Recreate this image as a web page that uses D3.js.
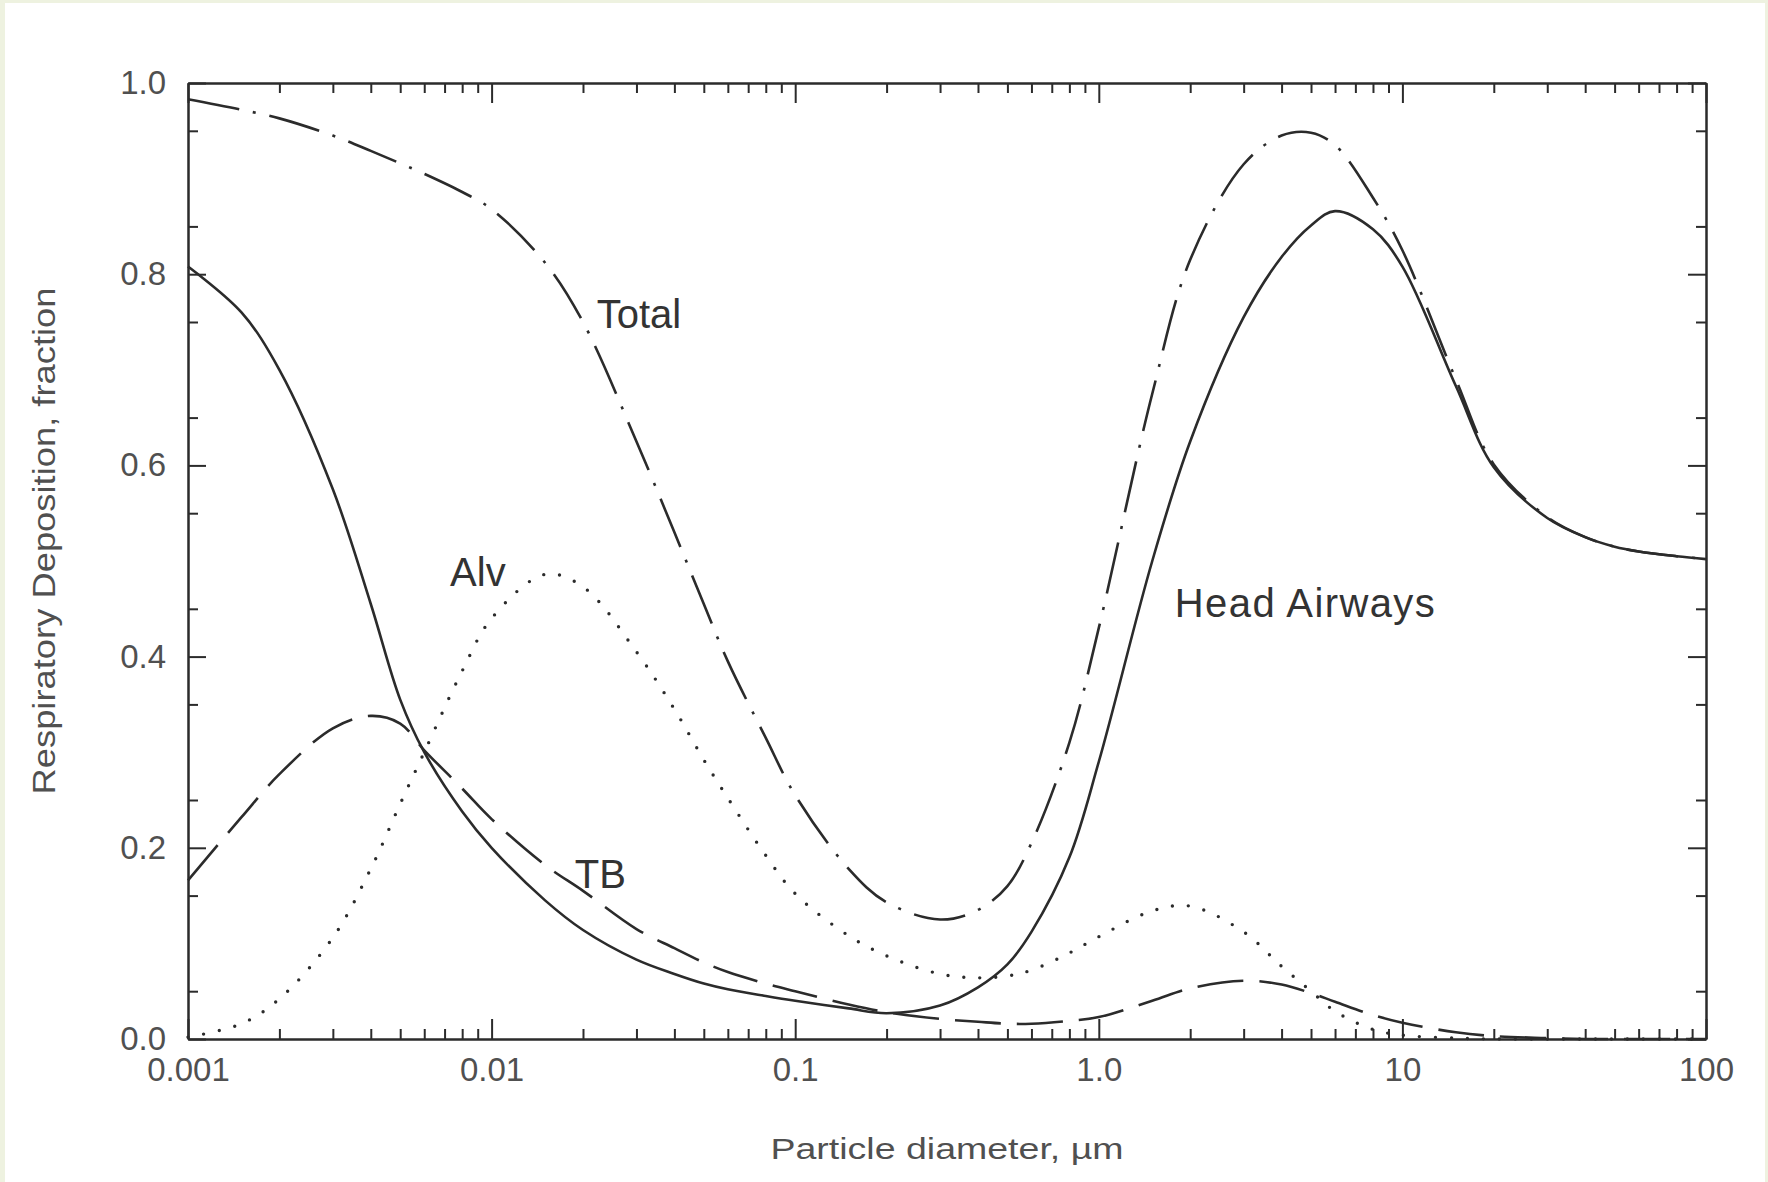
<!DOCTYPE html>
<html lang="en">
<head>
    <meta charset="UTF-8">
    <title>Respiratory Deposition</title>
    <script src="https://d3js.org/d3.v7.min.js"></script>
    <style>
        body { margin: 0; background: #eef2e0; }
        svg { display: block; }
        text { font-family: "Liberation Sans", Arial, sans-serif; }
    </style>
</head>
<body>
    <div id="my_dataviz"></div>

    <script>
        // particle diameters (um) the curves were read at
        var diameters = [0.001, 0.0015, 0.002, 0.003, 0.004, 0.005, 0.006, 0.008, 0.01, 0.015,
            0.02, 0.03, 0.04, 0.05, 0.06, 0.08, 0.1, 0.15, 0.2, 0.3,
            0.4, 0.5, 0.6, 0.8, 1, 1.5, 2, 3, 4, 5,
            6, 8, 10, 15, 20, 30, 40, 50, 60, 80, 100];

        // deposition fraction for each region
        var headAirways = [0.808, 0.76, 0.70, 0.575, 0.455, 0.355, 0.30, 0.238, 0.200, 0.145,
            0.114, 0.083, 0.068, 0.058, 0.052, 0.045, 0.040, 0.032, 0.027, 0.035,
            0.054, 0.078, 0.112, 0.19, 0.29, 0.50, 0.625, 0.755, 0.818, 0.851,
            0.866, 0.847, 0.808, 0.683, 0.598, 0.545, 0.525, 0.515, 0.51, 0.505, 0.502];
        var tb = [0.166, 0.232, 0.277, 0.325, 0.338, 0.33, 0.302, 0.262, 0.23, 0.182,
            0.155, 0.115, 0.095, 0.08, 0.07, 0.058, 0.05, 0.036, 0.028, 0.021,
            0.018, 0.016, 0.016, 0.019, 0.023, 0.04, 0.053, 0.061, 0.057, 0.048,
            0.039, 0.025, 0.017, 0.007, 0.003, 0.001, 0, 0, 0, 0, 0];
        var alv = [0.002, 0.016, 0.042, 0.106, 0.178, 0.246, 0.3, 0.385, 0.44, 0.486,
            0.473, 0.405, 0.345, 0.292, 0.252, 0.192, 0.152, 0.108, 0.087, 0.068,
            0.064, 0.066, 0.072, 0.09, 0.107, 0.134, 0.139, 0.112, 0.076, 0.05,
            0.029, 0.01, 0.004, 0.001, 0, 0, 0, 0, 0, 0, 0];
        var total = [0.983, 0.972, 0.963, 0.945, 0.929, 0.916, 0.905, 0.886, 0.868, 0.812,
            0.75, 0.625, 0.53, 0.455, 0.395, 0.315, 0.255, 0.178, 0.143, 0.125,
            0.135, 0.16, 0.205, 0.31, 0.43, 0.675, 0.815, 0.915, 0.945, 0.948,
            0.935, 0.88, 0.825, 0.69, 0.601, 0.546, 0.525, 0.515, 0.51, 0.505, 0.502];

        // axis ticks and labels
        var xMajor = [0.001, 0.01, 0.1, 1, 10, 100];
        var xTickLabels = ["0.001", "0.01", "0.1", "1.0", "10", "100"];
        var yMajor = [0, 0.2, 0.4, 0.6, 0.8, 1.0];
        var yTickLabels = ["0.0", "0.2", "0.4", "0.6", "0.8", "1.0"];

        // curve labels, placed in data coordinates
        var curveLabels = ["Total", "Alv", "TB", "Head Airways"];
        var labelDiameter = [0.0222, 0.0073, 0.0188, 1.78];
        var labelFraction = [0.744, 0.474, 0.158, 0.441];

        var W = 1768, H = 1182;
        var margin = { top: 83, right: 62, bottom: 143, left: 188 },
            width = W - margin.left - margin.right,
            height = H - margin.top - margin.bottom;

        var root = d3.select("#my_dataviz")
            .append("svg")
            .attr("width", W)
            .attr("height", H);

        // white page inside the pale border
        root.append("rect")
            .attr("x", 5).attr("y", 3)
            .attr("width", W - 8).attr("height", H - 3)
            .attr("fill", "#fff");

        var svg = root.append("g")
            .attr("transform", "translate(" + margin.left + "," + margin.top + ")");

        var x = d3.scaleLog().domain([0.001, 100]).range([0, width]);
        var y = d3.scaleLinear().domain([0, 1]).range([height, 0]);

        // minor ticks 2..9 in each decade, 0.05 steps on y
        var xMinor = [];
        xMajor.slice(0, -1).forEach(function (m) {
            for (var k = 2; k <= 9; k++) xMinor.push(m * k);
        });
        var yMinor = d3.range(0.05, 1, 0.1);

        var ink = "#2b2b2b";

        function styleAxis(g) {
            g.select(".domain").attr("stroke", ink).attr("stroke-width", 2);
            g.selectAll(".tick line").attr("stroke", ink).attr("stroke-width", 2);
            g.selectAll(".tick text")
                .attr("fill", "#505050")
                .style("font-size", "33px");
        }

        // bottom axis with labels
        svg.append("g")
            .attr("transform", "translate(0," + height + ")")
            .call(d3.axisBottom(x).tickValues(xMajor).tickSize(-20).tickSizeOuter(0).tickPadding(19)
                .tickFormat(function (d, i) { return xTickLabels[i]; }))
            .call(styleAxis);
        svg.append("g")
            .attr("transform", "translate(0," + height + ")")
            .call(d3.axisBottom(x).tickValues(xMinor).tickSize(-10).tickSizeOuter(0).tickFormat(""))
            .call(styleAxis);

        // top axis, ticks only
        svg.append("g")
            .call(d3.axisTop(x).tickValues(xMajor).tickSize(-20).tickSizeOuter(0).tickFormat(""))
            .call(styleAxis);
        svg.append("g")
            .call(d3.axisTop(x).tickValues(xMinor).tickSize(-10).tickSizeOuter(0).tickFormat(""))
            .call(styleAxis);

        // left axis with labels
        svg.append("g")
            .call(d3.axisLeft(y).tickValues(yMajor).tickSize(-18).tickSizeOuter(0).tickPadding(22)
                .tickFormat(function (d, i) { return yTickLabels[i]; }))
            .call(styleAxis);
        svg.append("g")
            .call(d3.axisLeft(y).tickValues(yMinor).tickSize(-10).tickSizeOuter(0).tickFormat(""))
            .call(styleAxis);

        // right axis, ticks only
        svg.append("g")
            .attr("transform", "translate(" + width + ",0)")
            .call(d3.axisRight(y).tickValues(yMajor).tickSize(-18).tickSizeOuter(0).tickFormat(""))
            .call(styleAxis);
        svg.append("g")
            .attr("transform", "translate(" + width + ",0)")
            .call(d3.axisRight(y).tickValues(yMinor).tickSize(-10).tickSizeOuter(0).tickFormat(""))
            .call(styleAxis);

        // curves (smooth through the read points)
        var line = d3.line()
            .x(function (d) { return x(d[0]); })
            .y(function (d) { return y(Math.max(0, d[1])); })
            .curve(d3.curveCatmullRom.alpha(0.5));

        var series = [
            { values: headAirways, dash: null, cap: "butt", w: 2.6 },
            { values: tb, dash: "46,16", cap: "butt", w: 2.6 },
            { values: alv, dash: "0,16", cap: "round", w: 3.4 },
            { values: total, dash: "52,14,3,14", cap: "butt", w: 2.6 }
        ];

        svg.selectAll("path.curve")
            .data(series)
            .enter()
            .append("path")
            .attr("class", "curve")
            .attr("fill", "none")
            .attr("stroke", ink)
            .attr("stroke-width", function (s) { return s.w; })
            .attr("stroke-linecap", function (s) { return s.cap; })
            .attr("stroke-dasharray", function (s) { return s.dash; })
            .attr("d", function (s) {
                return line(diameters.map(function (d, i) { return [d, s.values[i]]; }));
            });

        // curve labels
        svg.selectAll("text.lab")
            .data(curveLabels)
            .enter()
            .append("text")
            .attr("class", "lab")
            .attr("x", function (d, i) { return x(labelDiameter[i]); })
            .attr("y", function (d, i) { return y(labelFraction[i]); })
            .attr("fill", "#333")
            .style("font-size", "40px")
            .style("letter-spacing", function (d) { return d === "Head Airways" ? "1.4px" : null; })
            .text(function (d) { return d; });

        // axis titles
        root.append("text")
            .attr("x", margin.left + width / 2)
            .attr("y", 1159)
            .attr("text-anchor", "middle")
            .attr("textLength", 353)
            .attr("lengthAdjust", "spacingAndGlyphs")
            .attr("fill", "#505050")
            .style("font-size", "30px")
            .text("Particle diameter, \u00b5m");

        root.append("text")
            .attr("transform", "translate(55,541) rotate(-90)")
            .attr("text-anchor", "middle")
            .attr("textLength", 507)
            .attr("lengthAdjust", "spacingAndGlyphs")
            .attr("fill", "#505050")
            .style("font-size", "31px")
            .text("Respiratory Deposition, fraction");
    </script>
</body>
</html>
